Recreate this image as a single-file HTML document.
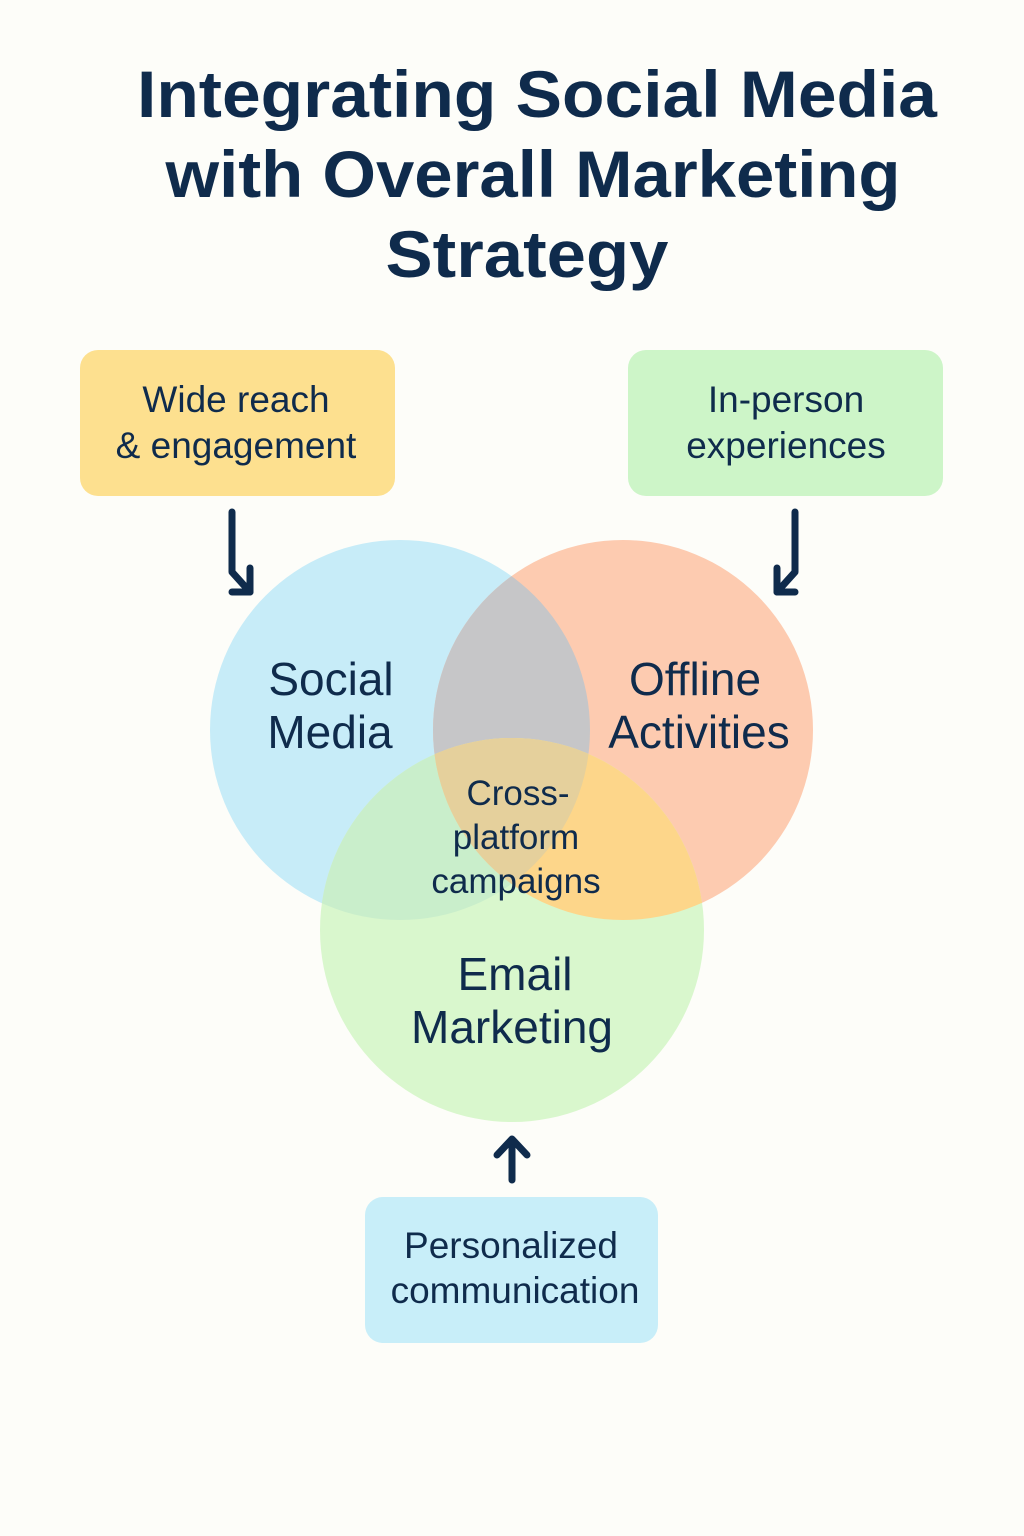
<!DOCTYPE html>
<html><head><meta charset="utf-8"><style>
body{margin:0;background:#fdfdf9;}
svg{display:block}
text{font-family:"Liberation Sans","DejaVu Sans",sans-serif;fill:#0f2b4c;text-anchor:middle}
</style></head><body>
<svg width="1024" height="1536" viewBox="0 0 1024 1536" xmlns="http://www.w3.org/2000/svg">
<rect width="1024" height="1536" fill="#fdfdf9"/>
<g font-size="66" font-weight="bold">
<text x="537" y="117" textLength="800" lengthAdjust="spacingAndGlyphs">Integrating Social Media</text>
<text x="533" y="197" textLength="735" lengthAdjust="spacingAndGlyphs">with Overall Marketing</text>
<text x="527" y="277" textLength="283" lengthAdjust="spacingAndGlyphs">Strategy</text>
</g>
<rect x="80" y="350" width="315" height="146" rx="18" fill="#fde08f"/>
<rect x="628" y="350" width="315" height="146" rx="18" fill="#cdf5c8"/>
<rect x="365" y="1197" width="293" height="146" rx="18" fill="#c8eef9"/>
<g font-size="37">
<text x="236" y="412">Wide reach</text>
<text x="236" y="458">&amp; engagement</text>
<text x="786" y="412">In-person</text>
<text x="786" y="458">experiences</text>
<text x="511" y="1258">Personalized</text>
<text x="515" y="1303">communication</text>
</g>
<defs>
<clipPath id="cb"><circle cx="400" cy="730" r="190"/></clipPath>
<clipPath id="co"><circle cx="623" cy="730" r="190"/></clipPath>
<clipPath id="cg"><circle cx="512" cy="930" r="192"/></clipPath>
</defs>
<circle cx="400" cy="730" r="190" fill="#c7ecf8"/>
<circle cx="623" cy="730" r="190" fill="#fdcbb0"/>
<circle cx="512" cy="930" r="192" fill="#d9f7cd"/>
<circle cx="623" cy="730" r="190" fill="#c6c6c8" clip-path="url(#cb)"/>
<circle cx="512" cy="930" r="192" fill="#c9eecb" clip-path="url(#cb)"/>
<circle cx="512" cy="930" r="192" fill="#fdd68a" clip-path="url(#co)"/>
<g clip-path="url(#cb)"><circle cx="512" cy="930" r="192" fill="#e5d09c" clip-path="url(#co)"/></g>
<g font-size="46">
<text x="331" y="695">Social</text>
<text x="330" y="748">Media</text>
<text x="695" y="695">Offline</text>
<text x="699" y="748">Activities</text>
<text x="515" y="990">Email</text>
<text x="512" y="1043">Marketing</text>
</g>
<g font-size="35">
<text x="518" y="805">Cross-</text>
<text x="516" y="849">platform</text>
<text x="516" y="893">campaigns</text>
</g>
<g stroke="#0f2b4c" stroke-width="7" fill="none" stroke-linecap="round" stroke-linejoin="round">
<path d="M232 512 V572 L250 592"/><path d="M250 568 V592 H232"/>
<path d="M795 512 V572 L777 592"/><path d="M777 568 V592 H795"/>
<path d="M512 1180 V1140"/><path d="M497 1155 L512 1139 L527 1155"/>
</g>
</svg>
</body></html>
